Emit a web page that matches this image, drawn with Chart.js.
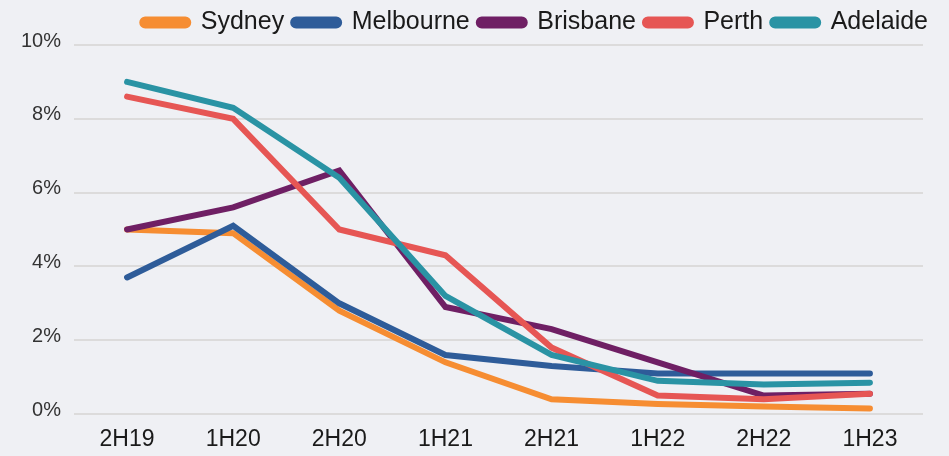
<!DOCTYPE html>
<html>
<head>
<meta charset="utf-8">
<script src="https://cdn.jsdelivr.net/npm/chart.js@4"></script>
<style>
  html, body { margin: 0; padding: 0; background: #eff0f4; }
  #wrap { width: 949px; height: 456px; position: relative; }
</style>
</head>
<body>
<div id="wrap"><canvas id="lineChart"></canvas></div>
<script>
const periods = ['2H19', '1H20', '2H20', '1H21', '2H21', '1H22', '2H22', '1H23'];
const sydney    = [5.0, 4.9, 2.8, 1.4, 0.4, 0.27, 0.2, 0.15];
const melbourne = [3.7, 5.1, 3.0, 1.6, 1.3, 1.1, 1.1, 1.1];
const brisbane  = [5.0, 5.6, 6.6, 2.9, 2.3, 1.4, 0.5, 0.55];
const perth     = [8.6, 8.0, 5.0, 4.3, 1.8, 0.5, 0.4, 0.55];
const adelaide  = [9.0, 8.3, 6.4, 3.2, 1.6, 0.9, 0.8, 0.85];
const yTicks = [0, 2, 4, 6, 8, 10];

const fontFamily = '"Liberation Sans", Arial, sans-serif';

function series(label, data, color, order) {
    return {
        label,
        data,
        borderColor: color,
        backgroundColor: color,
        borderWidth: 6,
        borderCapStyle: 'round',
        borderJoinStyle: 'miter',
        pointRadius: 0,
        tension: 0,
        order
    };
}

document.addEventListener('DOMContentLoaded', () => {
    const ctx = document.getElementById('lineChart');
    new Chart(ctx, {
        type: 'line',
        data: {
            labels: periods,
            datasets: [
                series('Sydney', sydney, '#f68d32', 5),
                series('Melbourne', melbourne, '#2e5c99', 4),
                series('Brisbane', brisbane, '#6f1f64', 3),
                series('Perth', perth, '#e65654', 2),
                series('Adelaide', adelaide, '#2a93a4', 1)
            ]
        },
        options: {
            responsive: true,
            maintainAspectRatio: false,
            animation: false,
            layout: { padding: { left: 0, right: 12, top: 1, bottom: 0 } },
            plugins: {
                legend: {
                    position: 'top',
                    align: 'end',
                    labels: {
                        font: { family: fontFamily, size: 25 },
                        color: '#1a1a1a',
                        boxWidth: 46,
                        boxHeight: 6,
                        useBorderRadius: true,
                        borderRadius: 3,
                        padding: 9,
                        sort: (a, b) => a.datasetIndex - b.datasetIndex
                    }
                },
                tooltip: { enabled: false }
            },
            scales: {
                x: {
                    offset: true,
                    afterFit: axis => { axis.height = 42; },
                    grid: { display: false, drawTicks: false },
                    border: { display: false },
                    ticks: {
                        font: { family: fontFamily, size: 23 },
                        color: '#1a1a1a',
                        padding: 12,
                        maxRotation: 0
                    }
                },
                y: {
                    min: 0,
                    max: 10,
                    afterBuildTicks: axis => {
                        axis.ticks = yTicks.map(v => ({ value: v }));
                    },
                    afterFit: axis => { axis.width = 74; },
                    grid: { color: '#dcdbdb', lineWidth: 2, drawTicks: false },
                    border: { display: false },
                    ticks: {
                        font: { family: fontFamily, size: 20 },
                        color: '#333333',
                        padding: 13,
                        labelOffset: -4,
                        callback: v => v + '%'
                    }
                },
                spacer: {
                    type: 'linear',
                    position: 'right',
                    display: true,
                    grid: { display: false, drawTicks: false },
                    border: { display: false },
                    ticks: { display: false },
                    afterFit: axis => { axis.width = 14; }
                }
            }
        }
    });
});
</script>
</body>
</html>
